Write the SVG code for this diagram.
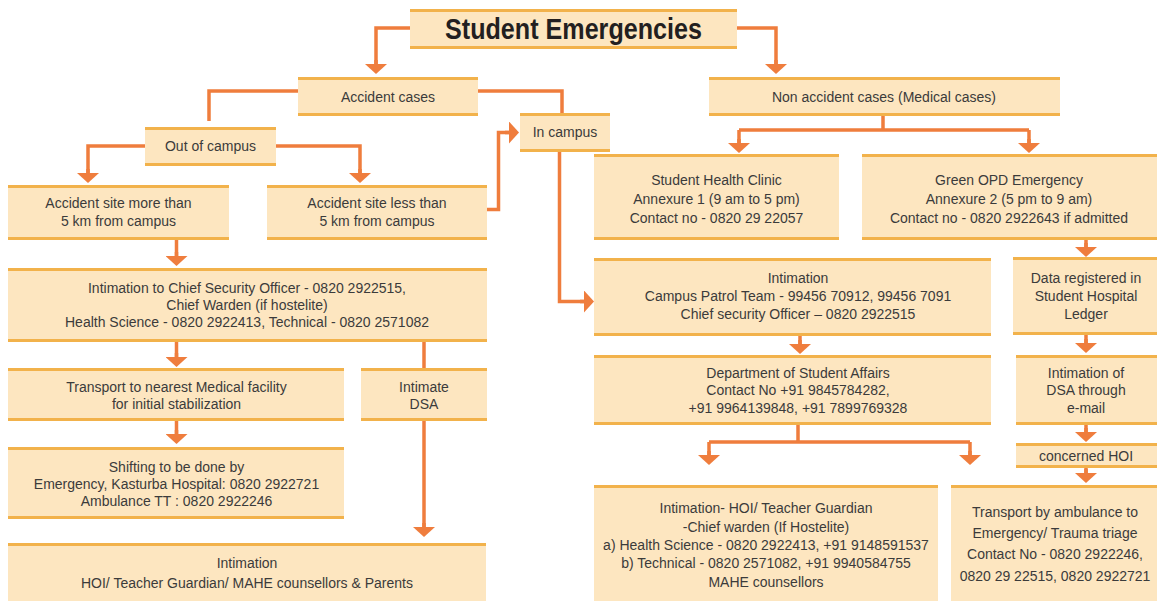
<svg xmlns="http://www.w3.org/2000/svg" width="1157" height="601" viewBox="0 0 1157 601">
<style>
.bx{fill:#FDE6C0}
.bd{stroke:#F2B24B;stroke-width:3}
.t{font-family:"Liberation Sans",Arial,sans-serif;font-size:14px;fill:#3b3b3b;text-anchor:middle}
.ttl{font-family:"Liberation Sans",Arial,sans-serif;font-size:29px;font-weight:bold;fill:#231f20;text-anchor:middle}
.c{fill:none;stroke:#EF7D3D;stroke-width:3.5}
.a{marker-end:url(#ah)}
</style>
<defs>
<marker id="ah" viewBox="0 0 10 22" refX="0" refY="11" markerWidth="10" markerHeight="22" markerUnits="userSpaceOnUse" orient="auto">
<path d="M0,0 L10,11 L0,22 Z" fill="#EF7D3D"/>
</marker>
</defs>
<rect width="1157" height="601" fill="#ffffff"/>

<g id="connectors">
<path class="c" d="M410,28 H376 V64"/>
<path class="c a" d="M376,60 V64"/>
<path class="c" d="M737,28 H776 V64"/>
<path class="c a" d="M776,60 V64"/>
<path class="c" d="M298,91 H209 V121"/>
<path class="c" d="M478,91 H562 V113"/>
<path class="c" d="M145,146 H88 V173"/>
<path class="c a" d="M88,169 V173"/>
<path class="c" d="M276,146 H360 V173"/>
<path class="c a" d="M360,169 V173"/>
<path class="c" d="M487,209.5 H498.5 V132.5 H509"/>
<path class="c a" d="M505,132.5 H509"/>
<path class="c" d="M559.5,152 V301.5 H584"/>
<path class="c a" d="M580,301.5 H584"/>
<path class="c" d="M883,116 V130 M739,130 H1029 M739,130 V143 M1029,130 V143"/>
<path class="c a" d="M739,139 V143"/>
<path class="c a" d="M1029,139 V143"/>
<path class="c" d="M176.5,240 V256"/>
<path class="c a" d="M176.5,252 V256"/>
<path class="c" d="M176.5,342 V357"/>
<path class="c a" d="M176.5,353 V357"/>
<path class="c" d="M424,342 V368"/>
<path class="c" d="M176.5,421 V434"/>
<path class="c a" d="M176.5,430 V434"/>
<path class="c" d="M424,421 V527"/>
<path class="c a" d="M424,523 V527"/>
<path class="c" d="M1086,240 V247"/>
<path class="c a" d="M1086,243 V247"/>
<path class="c" d="M800,336 V344"/>
<path class="c a" d="M800,340 V344"/>
<path class="c" d="M1086,335 V343"/>
<path class="c a" d="M1086,339 V343"/>
<path class="c" d="M798,425 V442 M709,442 H970 M709,442 V455 M970,442 V455"/>
<path class="c a" d="M709,451 V455"/>
<path class="c a" d="M970,451 V455"/>
<path class="c" d="M1086,425 V432"/>
<path class="c a" d="M1086,428 V432"/>
<path class="c" d="M1086,468 V473"/>
<path class="c a" d="M1086,469 V473"/>
</g>

<g id="title">
<rect class="bx" x="410" y="9" width="327" height="40"/>
<path class="bd" d="M410,10.5 H737 M410,47.5 H737"/>
<text class="ttl" x="573.5" y="39" textLength="257" lengthAdjust="spacingAndGlyphs">Student Emergencies</text>
</g>

<g id="accident">
<rect class="bx" x="298" y="77" width="180" height="39"/>
<path class="bd" d="M298,78.5 H478 M298,114.5 H478"/>
<text class="t" x="388" y="102">Accident cases</text>
</g>

<g id="nonaccident">
<rect class="bx" x="709" y="77" width="351" height="39"/>
<path class="bd" d="M709,78.5 H1060 M709,114.5 H1060"/>
<text class="t" x="884" y="102">Non accident cases (Medical cases)</text>
</g>

<g id="incampus">
<rect class="bx" x="520" y="113" width="90" height="39"/>
<path class="bd" d="M520,114.5 H610 M520,150.5 H610"/>
<text class="t" x="565" y="137">In campus</text>
</g>

<g id="outcampus">
<rect class="bx" x="145" y="127" width="131" height="39"/>
<path class="bd" d="M145,128.5 H276 M145,164.5 H276"/>
<text class="t" x="210.5" y="151">Out of campus</text>
</g>

<g id="site-more">
<rect class="bx" x="8" y="185" width="221" height="55"/>
<path class="bd" d="M8,186.5 H229 M8,238.5 H229"/>
<text class="t" x="118.5" y="208">Accident site more than</text>
<text class="t" x="118.5" y="226">5 km from campus</text>
</g>

<g id="site-less">
<rect class="bx" x="267" y="185" width="220" height="55"/>
<path class="bd" d="M267,186.5 H487 M267,238.5 H487"/>
<text class="t" x="377" y="208">Accident site less than</text>
<text class="t" x="377" y="226">5 km from campus</text>
</g>

<g id="clinic">
<rect class="bx" x="594" y="154" width="245" height="86"/>
<path class="bd" d="M594,155.5 H839 M594,238.5 H839"/>
<text class="t" x="716.5" y="185">Student Health Clinic</text>
<text class="t" x="716.5" y="204">Annexure 1 (9 am to 5 pm)</text>
<text class="t" x="716.5" y="223">Contact no - 0820 29 22057</text>
</g>

<g id="green-opd">
<rect class="bx" x="862" y="154" width="295" height="86"/>
<path class="bd" d="M862,155.5 H1157 M862,238.5 H1157"/>
<text class="t" x="1009" y="185">Green OPD Emergency</text>
<text class="t" x="1009" y="204">Annexure 2 (5 pm to 9 am)</text>
<text class="t" x="1009" y="223">Contact no - 0820 2922643 if admitted</text>
</g>

<g id="intimation-chief">
<rect class="bx" x="8" y="268" width="479" height="74"/>
<path class="bd" d="M8,269.5 H487 M8,340.5 H487"/>
<text class="t" x="247" y="293">Intimation to Chief Security Officer - 0820 2922515,</text>
<text class="t" x="247" y="310">Chief Warden (if hostelite)</text>
<text class="t" x="247" y="327">Health Science - 0820 2922413, Technical - 0820 2571082</text>
</g>

<g id="transport-nearest">
<rect class="bx" x="8" y="368" width="336" height="53"/>
<path class="bd" d="M8,369.5 H344 M8,419.5 H344"/>
<text class="t" x="176.5" y="392">Transport to nearest Medical facility</text>
<text class="t" x="176.5" y="409">for initial stabilization</text>
</g>

<g id="intimate-dsa">
<rect class="bx" x="361" y="368" width="126" height="53"/>
<path class="bd" d="M361,369.5 H487 M361,419.5 H487"/>
<text class="t" x="424" y="392">Intimate</text>
<text class="t" x="424" y="409">DSA</text>
</g>

<g id="shifting">
<rect class="bx" x="8" y="447" width="336" height="72"/>
<path class="bd" d="M8,448.5 H344 M8,517.5 H344"/>
<text class="t" x="176.5" y="472">Shifting to be done by</text>
<text class="t" x="176.5" y="489">Emergency, Kasturba Hospital: 0820 2922721</text>
<text class="t" x="176.5" y="506">Ambulance TT : 0820 2922246</text>
</g>

<g id="intimation-parents">
<rect class="bx" x="8" y="543" width="478" height="62"/>
<path class="bd" d="M8,544.5 H486"/>
<text class="t" x="247" y="568">Intimation</text>
<text class="t" x="247" y="588">HOI/ Teacher Guardian/ MAHE counsellors &amp; Parents</text>
</g>

<g id="intimation-patrol">
<rect class="bx" x="594" y="258" width="397" height="78"/>
<path class="bd" d="M594,259.5 H991 M594,334.5 H991"/>
<text class="t" x="798" y="283">Intimation</text>
<text class="t" x="798" y="301">Campus Patrol Team - 99456 70912, 99456 7091</text>
<text class="t" x="798" y="319">Chief security Officer – 0820 2922515</text>
</g>

<g id="data-registered">
<rect class="bx" x="1013" y="257" width="144" height="78"/>
<path class="bd" d="M1013,258.5 H1157 M1013,333.5 H1157"/>
<text class="t" x="1086" y="283">Data registered in</text>
<text class="t" x="1086" y="301">Student Hospital</text>
<text class="t" x="1086" y="319">Ledger</text>
</g>

<g id="dsa">
<rect class="bx" x="594" y="355" width="397" height="70"/>
<path class="bd" d="M594,356.5 H991 M594,423.5 H991"/>
<text class="t" x="798" y="378">Department of Student Affairs</text>
<text class="t" x="798" y="395">Contact No +91 9845784282,</text>
<text class="t" x="798" y="413">+91 9964139848, +91 7899769328</text>
</g>

<g id="intimation-dsa-email">
<rect class="bx" x="1016" y="355" width="141" height="70"/>
<path class="bd" d="M1016,356.5 H1157 M1016,423.5 H1157"/>
<text class="t" x="1086" y="378">Intimation of</text>
<text class="t" x="1086" y="395">DSA through</text>
<text class="t" x="1086" y="413">e-mail</text>
</g>

<g id="concerned-hoi">
<rect class="bx" x="1016" y="443" width="141" height="25"/>
<path class="bd" d="M1016,444.5 H1157 M1016,466.5 H1157"/>
<text class="t" x="1086" y="461">concerned HOI</text>
</g>

<g id="intimation-hoi">
<rect class="bx" x="594" y="485" width="344" height="120"/>
<path class="bd" d="M594,486.5 H938"/>
<text class="t" x="766" y="513">Intimation- HOI/ Teacher Guardian</text>
<text class="t" x="766" y="532">-Chief warden (If Hostelite)</text>
<text class="t" x="766" y="550">a) Health Science - 0820 2922413, +91 9148591537</text>
<text class="t" x="766" y="568">b) Technical - 0820 2571082, +91 9940584755</text>
<text class="t" x="766" y="587">MAHE counsellors</text>
</g>

<g id="ambulance">
<rect class="bx" x="951" y="485" width="206" height="120"/>
<path class="bd" d="M951,486.5 H1157"/>
<text class="t" x="1055" y="517">Transport by ambulance to</text>
<text class="t" x="1055" y="538">Emergency/ Trauma triage</text>
<text class="t" x="1055" y="559">Contact No - 0820 2922246,</text>
<text class="t" x="1055" y="581">0820 29 22515, 0820 2922721</text>
</g>
</svg>
